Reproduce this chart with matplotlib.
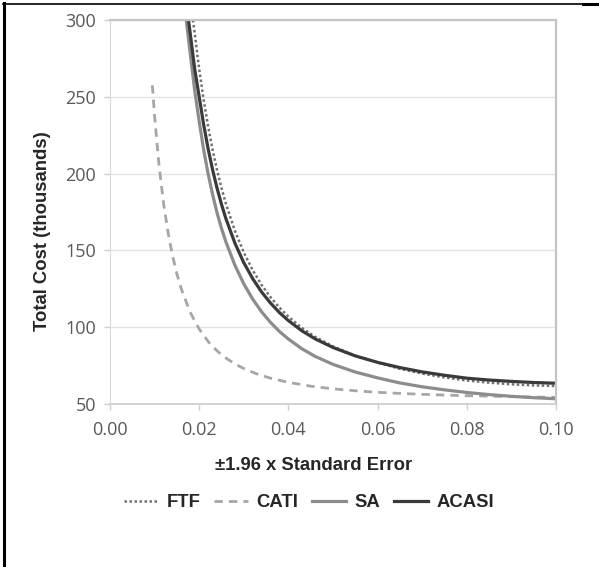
import matplotlib.pyplot as plt
from matplotlib.lines import Line2D

# values (x = +-1.96 x SE, y = cost in thousands)
ftf_x = [0.0186, 0.019, 0.020, 0.021, 0.022, 0.023, 0.024, 0.025, 0.026, 0.028,
         0.030, 0.032, 0.034, 0.036, 0.038, 0.040, 0.043, 0.046, 0.050, 0.055,
         0.060, 0.065, 0.070, 0.075, 0.080, 0.085, 0.090, 0.095, 0.100]
ftf_y = [300, 291.3, 268.1, 248.1, 230.8, 215.7, 202.4, 190.7, 180.3, 162.8,
         148.7, 137.1, 127.5, 119.5, 112.7, 106.9, 99.6, 93.7, 87.5, 81.5,
         77.0, 72.9, 69.8, 67.3, 65.3, 63.9, 62.8, 62.1, 61.7]

cati_x = [0.0095, 0.010, 0.011, 0.012, 0.013, 0.014, 0.015, 0.016, 0.018, 0.020,
          0.022, 0.024, 0.026, 0.028, 0.030, 0.033, 0.036, 0.040, 0.045, 0.050,
          0.055, 0.060, 0.065, 0.070, 0.075, 0.080, 0.085, 0.090, 0.095, 0.100]
cati_y = [257.5, 237.5, 205.4, 181.0, 162.0, 146.9, 134.7, 124.8, 109.6, 98.8,
          90.7, 84.6, 79.9, 76.1, 73.1, 69.5, 66.8, 64.1, 61.6, 59.9,
          58.6, 57.6, 56.9, 56.3, 55.8, 55.4, 55.1, 54.8, 54.5, 54.3]

sa_x = [0.0171, 0.018, 0.019, 0.020, 0.021, 0.022, 0.023, 0.024, 0.025, 0.026,
        0.028, 0.030, 0.032, 0.034, 0.036, 0.038, 0.040, 0.043, 0.046, 0.050,
        0.055, 0.060, 0.065, 0.070, 0.075, 0.080, 0.085, 0.090, 0.095, 0.100]
sa_y = [300, 278, 254, 234, 215.5, 200, 186.5, 174.5, 164.4, 155.5,
        140.4, 128.2, 118.3, 110.0, 103.1, 97.2, 92.3, 86.0, 81.0, 75.8,
        70.8, 67.0, 63.7, 61.2, 59.2, 57.5, 56.1, 55.0, 54.1, 53.4]

acasi_x = [0.0176, 0.018, 0.019, 0.020, 0.021, 0.022, 0.023, 0.024, 0.025, 0.026,
           0.028, 0.030, 0.032, 0.034, 0.036, 0.038, 0.040, 0.043, 0.046, 0.050,
           0.055, 0.060, 0.065, 0.070, 0.075, 0.080, 0.085, 0.090, 0.095, 0.100]
acasi_y = [300, 291, 268, 250, 232, 216.2, 202.6, 190.6, 180.0, 170.6,
           154.8, 142.0, 131.6, 122.9, 115.7, 109.5, 104.3, 97.7, 92.4, 86.8,
           81.3, 77.1, 73.7, 70.9, 68.7, 66.8, 65.6, 64.7, 64.0, 63.5]

y_ticks = [50, 100, 150, 200, 250, 300]
x_ticks = [0.00, 0.02, 0.04, 0.06, 0.08, 0.10]

fig = plt.figure(figsize=(5.99, 5.67), dpi=100)
ax = fig.add_axes([0.1836, 0.2875, 0.7446, 0.6772])

ax.plot(ftf_x, ftf_y, color='#707070', lw=1.8, linestyle=(0, (1, 1)), label='FTF')
ax.plot(cati_x, cati_y, color='#a6a6a6', lw=2.0, linestyle=(0, (3, 2.2)), label='CATI')
ax.plot(sa_x, sa_y, color='#8c8c8c', lw=2.3, label='SA')
ax.plot(acasi_x, acasi_y, color='#3a3a3a', lw=2.3, label='ACASI')

ax.set_xlim(0, 0.10)
ax.set_ylim(50, 300)
ax.set_xticks(x_ticks)
ax.set_xticklabels([f'{v:.2f}' for v in x_ticks])
ax.set_yticks(y_ticks)
ax.grid(axis='y', color='#e4e4e4', lw=1)
ax.set_axisbelow(True)

for s in ['top', 'right']:
    ax.spines[s].set_color('#c4c4c4')
    ax.spines[s].set_linewidth(1.6)
ax.spines['left'].set_color('#d9d9d9')
ax.spines['bottom'].set_color('#cfcfcf')
ax.spines['bottom'].set_linewidth(1.3)

ax.tick_params(axis='both', colors='#cfcfcf', length=4, width=1,
               labelcolor='#595959', labelsize=13)
ax.tick_params(axis='x', pad=8)
ax.tick_params(axis='y', pad=6)
for lab in ax.get_xticklabels() + ax.get_yticklabels():
    lab.set_family('Open Sans')

ax.set_xlabel('±1.96 x Standard Error', family='Liberation Sans', fontweight='bold',
              fontsize=13.3, color='#262626')
ax.set_ylabel('Total Cost (thousands)', family='Liberation Sans', fontweight='bold',
              fontsize=13.3, color='#262626')
# axis titles sit off-centre in the original chart
ax.xaxis.set_label_coords(0.457, -0.138)
ax.yaxis.set_label_coords(-0.133, 0.449)

leg = fig.legend(loc='center', bbox_to_anchor=(0.516, 0.113), ncol=4, frameon=False,
                 handlelength=1.85, handletextpad=0.45, columnspacing=0.75,
                 prop={'family': 'Liberation Sans', 'weight': 'bold', 'size': 13.3})
for t in leg.get_texts():
    t.set_color('#262626')

# frame lines of the surrounding cell
fig.add_artist(Line2D([4 / 599, 4 / 599], [0, 1 - 3 / 567], color='black', lw=2.2))
fig.add_artist(Line2D([3 / 599, 1], [1 - 3.8 / 567, 1 - 3.8 / 567], color='black', lw=1.2))
fig.add_artist(Line2D([583 / 599, 1], [1 - 4.3 / 567, 1 - 4.3 / 567], color='black', lw=2.2))

fig.savefig('out.png', dpi=100)
